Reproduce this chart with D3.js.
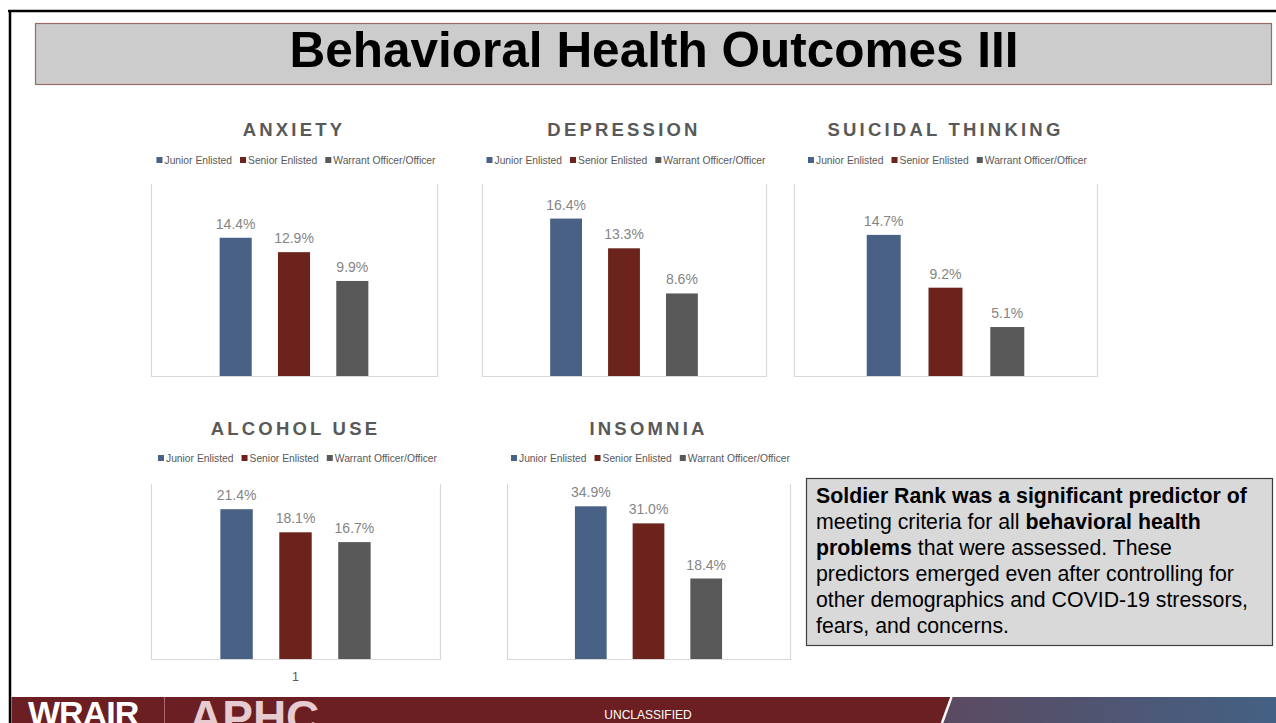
<!DOCTYPE html>
<html>
<head>
<meta charset="utf-8">
<script src="https://cdn.jsdelivr.net/npm/d3@7"></script>
<style>
  html, body { margin: 0; padding: 0; background: #fff; }
  svg { display: block; font-family: "Liberation Sans", Arial, sans-serif; }
</style>
</head>
<body>
<svg id="chart" width="1276" height="723"></svg>
<script>
// ---------------- DATA ----------------
const pageTitle = "Behavioral Health Outcomes III";
const seriesNames = ["Junior Enlisted", "Senior Enlisted", "Warrant Officer/Officer"];
const seriesColors = ["#486185", "#6b231b", "#595959"];
const outcomeTitles = ["ANXIETY", "DEPRESSION", "SUICIDAL THINKING", "ALCOHOL USE", "INSOMNIA"];
const anxietyValues = [14.4, 12.9, 9.9];
const depressionValues = [16.4, 13.3, 8.6];
const suicidalValues = [14.7, 9.2, 5.1];
const alcoholValues = [21.4, 18.1, 16.7];
const insomniaValues = [34.9, 31.0, 18.4];
const axisMax = [20, 20, 20, 25, 40];
const categoryLabels = ["", "", "", "1", ""];
const noteLines = [
  [["Soldier Rank was a significant predictor of", true]],
  [["meeting criteria for all ", false], ["behavioral health", true]],
  [["problems", true], [" that were assessed. These", false]],
  [["predictors emerged even after controlling for", false]],
  [["other demographics and COVID-19 stressors,", false]],
  [["fears, and concerns.", false]]
];
const footerText = "UNCLASSIFIED";

// ---------------- LAYOUT ----------------
const allValues = [anxietyValues, depressionValues, suicidalValues, alcoholValues, insomniaValues];
const panels = [
  {x0: 151, x1: 437, top: 184, bottom: 376, titleY: 136, legendY: 160},
  {x0: 482, x1: 766, top: 184, bottom: 376, titleY: 136, legendY: 160},
  {x0: 794, x1: 1097, top: 184, bottom: 376, titleY: 136, legendY: 160},
  {x0: 151, x1: 440, top: 484, bottom: 659, titleY: 435, legendY: 458},
  {x0: 507, x1: 790, top: 484, bottom: 659, titleY: 435, legendY: 458}
];

const svg = d3.select("#chart");
const defs = svg.append("defs");

// page frame lines
svg.append("line").attr("x1", 8).attr("x2", 1276).attr("y1", 11).attr("y2", 11)
  .attr("stroke", "#000").attr("stroke-width", 2.5);
svg.append("line").attr("x1", 10).attr("x2", 10).attr("y1", 10).attr("y2", 723)
  .attr("stroke", "#000").attr("stroke-width", 2.5);

// title box
svg.append("rect").attr("x", 35.5).attr("y", 23.5).attr("width", 1236).attr("height", 61)
  .attr("fill", "#cccccc").attr("stroke", "#9a6a64").attr("stroke-width", 1.2);
svg.append("text").attr("x", 654).attr("y", 67).attr("text-anchor", "middle")
  .attr("font-size", 49.5).attr("font-weight", "bold").attr("fill", "#000")
  .text(pageTitle);

// panels
panels.forEach((p, i) => {
  const g = svg.append("g");
  const vals = allValues[i];
  const cx = (p.x0 + p.x1) / 2;
  const groupW = (p.x1 - p.x0) * 0.52;
  const x = d3.scaleBand().domain(seriesNames)
    .range([cx - groupW / 2, cx + groupW / 2]).paddingInner(0.45).paddingOuter(0);
  const y = d3.scaleLinear().domain([0, axisMax[i]]).range([p.bottom, p.top]);

  // plot frame (left, right, bottom)
  g.append("path")
    .attr("d", `M${p.x0 + 0.5},${p.top}V${p.bottom + 0.5}H${p.x1 + 0.5}V${p.top}`)
    .attr("fill", "none").attr("stroke", "#d9d9d9").attr("stroke-width", 1.2);

  // title
  g.append("text").attr("x", cx).attr("y", p.titleY).attr("text-anchor", "middle")
    .attr("font-size", 18.5).attr("font-weight", "bold").attr("letter-spacing", "3.2px")
    .attr("fill", "#595959").text(outcomeTitles[i]);

  // legend
  const leg = g.append("g");
  let off = 0;
  seriesNames.forEach((s, k) => {
    const it = leg.append("g").attr("transform", `translate(${off},0)`);
    it.append("rect").attr("x", 0).attr("y", p.legendY - 3).attr("width", 6).attr("height", 6)
      .attr("fill", seriesColors[k]);
    const t = it.append("text").attr("x", 8).attr("y", p.legendY + 3.5)
      .attr("font-size", 10.3).attr("fill", "#595959").text(s);
    const w = t.node().getComputedTextLength();
    off += 8 + w + 8;
  });
  const totalW = off - 8;
  leg.attr("transform", `translate(${cx - totalW / 2 + 2},0)`);

  // bars
  g.selectAll("rect.bar").data(vals).join("rect").attr("class", "bar")
    .attr("x", (d, k) => x(seriesNames[k]))
    .attr("width", x.bandwidth())
    .attr("y", d => y(d))
    .attr("height", d => y(0) - y(d))
    .attr("fill", (d, k) => seriesColors[k]);

  // data labels
  g.selectAll("text.lbl").data(vals).join("text").attr("class", "lbl")
    .attr("x", (d, k) => x(seriesNames[k]) + x.bandwidth() / 2)
    .attr("y", d => y(d) - 9)
    .attr("text-anchor", "middle").attr("font-size", 14).attr("fill", "#858585")
    .text(d => d.toFixed(1) + "%");

  // category label
  if (categoryLabels[i]) {
    g.append("text").attr("x", cx).attr("y", p.bottom + 22).attr("text-anchor", "middle")
      .attr("font-size", 12.5).attr("fill", "#595959").text(categoryLabels[i]);
  }
});

// note box
svg.append("rect").attr("x", 806.5).attr("y", 478.5).attr("width", 466).attr("height", 167)
  .attr("fill", "#d9d9d9").attr("stroke", "#3f3f3f").attr("stroke-width", 1.2);
const note = svg.append("text").attr("font-size", 21.3).attr("fill", "#000");
noteLines.forEach((line, li) => {
  line.forEach(([txt, bold], j) => {
    const s = note.append("tspan").text(txt).attr("font-weight", bold ? "bold" : "normal");
    if (j === 0) s.attr("x", 816).attr("y", 503 + li * 26);
  });
});

// footer
const grad = defs.append("linearGradient").attr("id", "fg").attr("x1", "0%").attr("x2", "100%");
grad.append("stop").attr("offset", "0%").attr("stop-color", "#5b4a61");
grad.append("stop").attr("offset", "100%").attr("stop-color", "#436184");
defs.append("clipPath").attr("id", "fclip").append("rect")
  .attr("x", 0).attr("y", 697).attr("width", 1276).attr("height", 26);

const foot = svg.append("g").attr("clip-path", "url(#fclip)");
foot.append("rect").attr("x", 11.5).attr("y", 697).attr("width", 1265).attr("height", 26).attr("fill", "#6b1f22");
foot.append("path").attr("d", "M953,697L1276,697L1276,723L943,723Z").attr("fill", "url(#fg)");
foot.append("line").attr("x1", 951.5).attr("y1", 697).attr("x2", 942).attr("y2", 723)
  .attr("stroke", "#fff").attr("stroke-width", 2.5);
foot.append("text").attr("x", 28).attr("y", 725).attr("font-size", 34).attr("font-weight", "bold")
  .attr("fill", "#fff").attr("letter-spacing", "-1px").text("WRAIR");
foot.append("line").attr("x1", 164.5).attr("x2", 164.5).attr("y1", 697).attr("y2", 723)
  .attr("stroke", "#a86a6e").attr("stroke-width", 1);
foot.append("text").attr("x", 189).attr("y", 733).attr("font-size", 46).attr("font-weight", "bold")
  .attr("fill", "#e8cbd0").text("APHC");
foot.append("text").attr("x", 648).attr("y", 719).attr("text-anchor", "middle")
  .attr("font-size", 12).attr("fill", "#fff").text(footerText);
</script>
</body>
</html>
